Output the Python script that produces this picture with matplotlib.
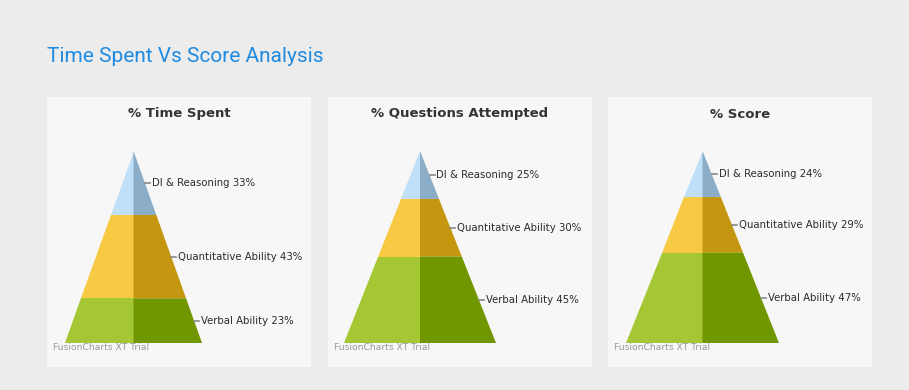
import matplotlib
matplotlib.use("Agg")
import matplotlib.pyplot as plt
from matplotlib.patches import Polygon

W, H = 909, 390

categories = ["DI & Reasoning", "Quantitative Ability", "Verbal Ability"]
time_spent = [33, 43, 23]
questions_attempted = [25, 30, 45]
score = [24, 29, 47]
panel_titles = ["% Time Spent", "% Questions Attempted", "% Score"]
panel_values = [time_spent, questions_attempted, score]

light_colors = ["#bfe0f8", "#f8c942", "#a5c734"]
dark_colors = ["#8badc7", "#c5960f", "#709600"]

# panel left edge, apex x within panel, half base width (pixels)
layout = [(47, 86.5, 68.5), (328, 92, 76), (608, 94.5, 76.5)]
PANEL_TOP, PANEL_W, PANEL_H = 97, 264, 270
APEX_Y, BASE_Y = 54, 246

fig = plt.figure(figsize=(W / 100, H / 100), dpi=100)
fig.patch.set_facecolor("#ececec")

fig.text(47 / W, 1 - 56 / H, "Time Spent Vs Score Analysis", color="#1e8ae0",
         fontsize=15, family="Roboto", va="center", ha="left")

for (x0, apex_x, half_base), title, values in zip(layout, panel_titles, panel_values):
    ax = fig.add_axes([x0 / W, 1 - (PANEL_TOP + PANEL_H) / H, PANEL_W / W, PANEL_H / H])
    ax.set_xlim(0, PANEL_W)
    ax.set_ylim(PANEL_H, 0)
    ax.set_facecolor("#f7f7f7")
    ax.set_xticks([])
    ax.set_yticks([])
    for s in ax.spines.values():
        s.set_visible(False)

    ax.text(PANEL_W / 2, 17, title, ha="center", va="center", fontsize=9.5,
            fontweight="bold", color="#333333")

    h = BASE_Y - APEX_Y
    total = sum(values)
    cum = 0
    for cat, v, lc, dc in zip(categories, values, light_colors, dark_colors):
        y_top = APEX_Y + cum / total * h
        y_bot = APEX_Y + (cum + v) / total * h
        w_top = half_base * (y_top - APEX_Y) / h
        w_bot = half_base * (y_bot - APEX_Y) / h
        ax.add_patch(Polygon([(apex_x - w_top, y_top), (apex_x, y_top),
                              (apex_x, y_bot), (apex_x - w_bot, y_bot)],
                             closed=True, facecolor=lc, edgecolor="none"))
        ax.add_patch(Polygon([(apex_x, y_top), (apex_x + w_top, y_top),
                              (apex_x + w_bot, y_bot), (apex_x, y_bot)],
                             closed=True, facecolor=dc, edgecolor="none"))
        y_mid = (y_top + y_bot) / 2
        edge = apex_x + half_base * (y_mid - APEX_Y) / h
        ax.plot([edge, edge + 5], [y_mid, y_mid], color="#888888", lw=1.2)
        ax.text(edge + 7, y_mid, f"{cat} {v}%", va="center", ha="left",
                fontsize=7.3, color="#2a2a2a")
        cum += v

    ax.text(6, 251, "FusionCharts XT Trial", va="center", ha="left",
            fontsize=6.6, color="#999999")

fig.savefig("out.png", dpi=100, facecolor=fig.get_facecolor())
